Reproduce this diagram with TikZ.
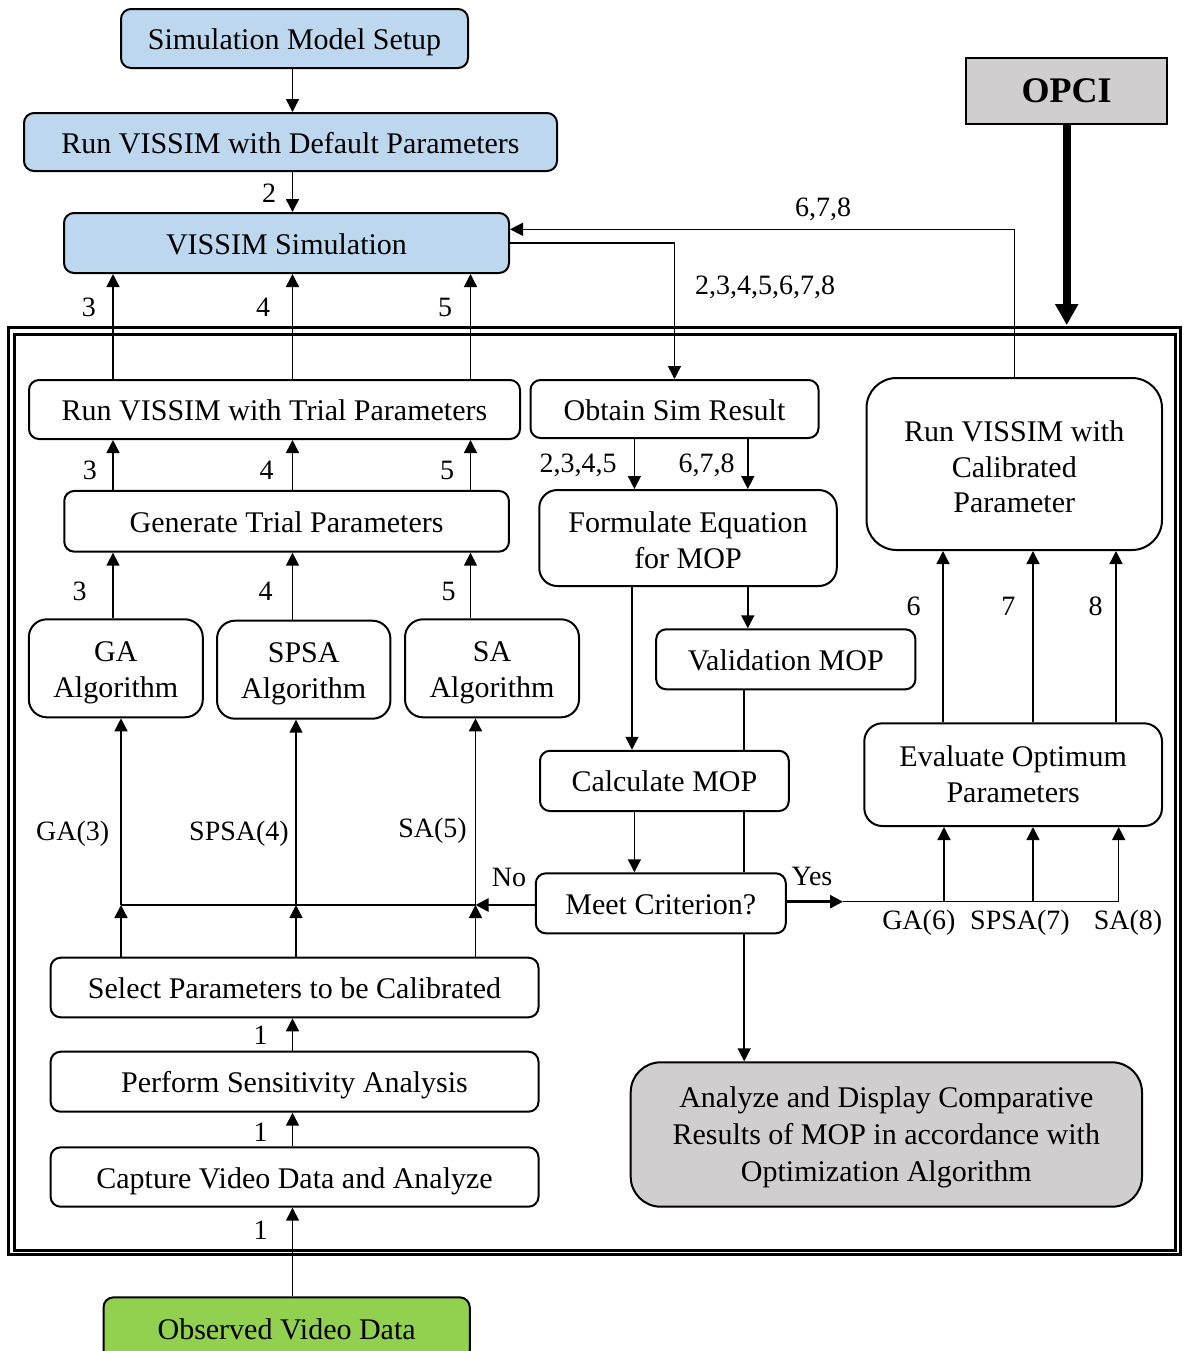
\documentclass[tikz,border=0pt]{standalone}
\usepackage{fontspec}
\setmainfont{Liberation Serif}
\usetikzlibrary{arrows.meta}
\definecolor{bluefill}{HTML}{BDD7EE}
\definecolor{grayfill}{HTML}{D0CECE}
\definecolor{greenfill}{HTML}{92D050}
\begin{document}
\begin{tikzpicture}[x=0.5pt,y=-0.5pt,
  box/.style={draw, line width=1pt, rounded corners=5pt, fill=white, align=center, inner sep=0pt, text height=11pt, text depth=0pt, font=\fontsize{15}{17.75}\selectfont},
  arr/.style={-{Triangle[length=6.5pt,width=6.5pt]}, line width=0.75pt},
  lbl/.style={inner sep=0pt, font=\fontsize{14}{16}\selectfont}]
\clip (0,0) rectangle (1184,1351);
% frame
\draw[line width=1.5pt] (8.5,327) rectangle (1180.7,1254.7);
\draw[line width=1.5pt] (14.7,334) rectangle (1175.3,1250);
% column coordinates
\coordinate (cA) at (113,0);
\coordinate (cB) at (292.5,0);
\coordinate (cC) at (470.5,0);
\coordinate (dA) at (121,0);
\coordinate (dB) at (296,0);
\coordinate (dC) at (475.5,0);
\coordinate (cF1) at (634.4,0);
\coordinate (cF0) at (632,0);
\coordinate (cF2) at (747.8,0);
\coordinate (cV) at (744.2,0);
\coordinate (eA) at (944,0);
\coordinate (eB) at (1033,0);
\coordinate (eC) at (1118.7,0);
\coordinate (fA) at (943,0);
\coordinate (fB) at (1033,0);
\coordinate (fC) at (1116,0);
\coordinate (cS) at (292.5,0);
\coordinate (jy) at (0,905);
\coordinate (yy) at (0,901.7);
\coordinate (yRC) at (0,229.3);
\coordinate (frTop) at (0,325);
\coordinate (yesA) at (843,901.7);
% nodes
\node[box, fill=bluefill, minimum width=173.5pt, minimum height=29.5pt] (sms) at (294.5,38.5) {Simulation Model Setup};
\node[box, fill=bluefill, minimum width=266.5pt, minimum height=29pt] (rdef) at (290.5,142) {Run VISSIM with Default Parameters};
\node[box, fill=bluefill, minimum width=222.5pt, minimum height=30pt] (vsim) at (286.5,243) {VISSIM Simulation};
\node[draw, line width=1pt, fill=grayfill, minimum width=100.75pt, minimum height=33pt, inner sep=0pt, font=\fontsize{18}{20}\selectfont\bfseries] (opci) at (1066.7,91) {OPCI};
\node[box, minimum width=245.5pt, minimum height=29.5pt] (rtrial) at (274.5,409.5) {Run VISSIM with Trial Parameters};
\node[box, minimum width=144pt, minimum height=29pt] (obtain) at (674.5,409) {Obtain Sim Result};
\node[box, rounded corners=15pt, text height=48.9pt, minimum width=147.75pt, minimum height=86pt] (runcal) at (1014.25,464) {Run VISSIM with\\Calibrated\\Parameter};
\node[box, minimum width=222.35pt, minimum height=30.35pt] (gen) at (286.6,521.3) {Generate Trial Parameters};
\node[box, rounded corners=9pt, text height=30.4pt, minimum width=148.75pt, minimum height=48pt] (form) at (688,538) {Formulate Equation\\for MOP};
\node[box, rounded corners=9pt, text height=29.1pt, minimum width=87pt, minimum height=49pt] (ga) at (115.8,668.3) {GA\\Algorithm};
\node[box, rounded corners=9pt, text height=28.7pt, minimum width=86.7pt, minimum height=49pt] (spsa) at (303.7,669.7) {SPSA\\Algorithm};
\node[box, rounded corners=9pt, text height=29.1pt, minimum width=87pt, minimum height=49pt] (sa) at (492,668.3) {SA\\Algorithm};
\node[box, minimum width=129.6pt, minimum height=30pt] (valid) at (785.8,659.3) {Validation MOP};
\node[box, minimum width=124.4pt, minimum height=30.15pt] (calc) at (664.4,780.9) {Calculate MOP};
\node[box, rounded corners=9pt, text height=27.75pt, minimum width=148.85pt, minimum height=51.35pt] (eval) at (1013.15,774.65) {Evaluate Optimum\\Parameters};
\node[box, minimum width=125pt, minimum height=30pt] (meet) at (660.8,903.3) {Meet Criterion?};
\node[box, minimum width=243.95pt, minimum height=29.8pt] (select) at (294.55,987.5) {Select Parameters to be Calibrated};
\node[box, minimum width=243.95pt, minimum height=30pt] (perform) at (294.55,1081.7) {Perform Sensitivity Analysis};
\node[box, minimum width=243.95pt, minimum height=29.7pt] (capture) at (294.55,1177) {Capture Video Data and Analyze};
\node[box, rounded corners=15pt, fill=grayfill, text height=47.4pt, minimum width=255.65pt, minimum height=72.2pt, font=\fontsize{15}{18.5}\selectfont] (analyze) at (886.35,1134.5) {Analyze and Display Comparative\\Results of MOP in accordance with\\Optimization Algorithm};
\node[box, fill=greenfill, minimum width=183.15pt, minimum height=31.35pt] (obs) at (286.65,1328.7) {Observed Video Data};
% connectors
\draw[arr] (sms.south -| cB) -- (rdef.north -| cB);
\draw[arr] (rdef.south -| cB) -- (vsim.north -| cB);
\draw[arr] (rtrial.north -| cA) -- (vsim.south -| cA);
\draw[arr] (rtrial.north -| cB) -- (vsim.south -| cB);
\draw[arr] (rtrial.north -| cC) -- (vsim.south -| cC);
\draw[arr] (gen.north -| cA) -- (rtrial.south -| cA);
\draw[arr] (gen.north -| cB) -- (rtrial.south -| cB);
\draw[arr] (gen.north -| cC) -- (rtrial.south -| cC);
\draw[arr] (ga.north -| cA) -- (gen.south -| cA);
\draw[arr] (spsa.north -| cB) -- (gen.south -| cB);
\draw[arr] (sa.north -| cC) -- (gen.south -| cC);
\draw[arr] (vsim.east) -| (obtain.north);
\draw[arr] (runcal.north) |- (vsim.east |- yRC);
\draw[-{Triangle[length=10.5pt,width=11pt]}, line width=4pt] (opci.south) -- (opci.south |- frTop);
\draw[arr] (obtain.south -| cF1) -- (form.north -| cF1);
\draw[arr] (obtain.south -| cF2) -- (form.north -| cF2);
\draw[arr] (form.south -| cF0) -- (calc.north -| cF0);
\draw[arr] (form.south -| cF2) -- (valid.north -| cF2);
\draw[line width=0.75pt] (valid.south -| cV) -- (calc.north -| cV);
\draw[line width=0.75pt] (calc.south -| cV) -- (meet.north -| cV);
\draw[arr] (meet.south -| cV) -- (analyze.north -| cV);
\draw[arr] (calc.south -| cF1) -- (meet.north -| cF1);
\draw[arr, line width=1.3pt] (meet.west |- jy) -- (dC |- jy);
\draw[line width=0.75pt] (dA |- jy) -- (dC |- jy);
\draw[arr] (select.north -| dA) -- (dA |- jy);
\draw[arr] (select.north -| dB) -- (dB |- jy);
\draw[arr] (select.north -| dC) -- (dC |- jy);
\draw[arr] (dA |- jy) -- (ga.south -| dA);
\draw[arr] (dB |- jy) -- (spsa.south -| dB);
\draw[arr] (dC |- jy) -- (sa.south -| dC);
\draw[arr, line width=1.3pt] (meet.east |- yy) -- (yesA);
\draw[line width=0.75pt] (yesA) -- (eC |- yy);
\draw[arr] (eA |- yy) -- (eval.south -| eA);
\draw[arr] (eB |- yy) -- (eval.south -| eB);
\draw[arr] (eC |- yy) -- (eval.south -| eC);
\draw[arr] (eval.north -| fA) -- (runcal.south -| fA);
\draw[arr] (eval.north -| fB) -- (runcal.south -| fB);
\draw[arr] (eval.north -| fC) -- (runcal.south -| fC);
\draw[arr] (perform.north -| cS) -- (select.south -| cS);
\draw[arr] (capture.north -| cS) -- (perform.south -| cS);
\draw[arr] (obs.north -| cS) -- (capture.south -| cS);
% labels
\node[lbl] (l2) at (269,193) {2};
\node[lbl] (l3a) at (88.8,307) {3};
\node[lbl] (l4a) at (263,307) {4};
\node[lbl] (l5a) at (445,307) {5};
\node[lbl] (l678a) at (823,209) {6,7,8};
\node[lbl] (lall) at (765,287) {2,3,4,5,6,7,8};
\node[lbl] (l3b) at (90,470) {3};
\node[lbl] (l4b) at (266.7,470) {4};
\node[lbl] (l5b) at (447,470) {5};
\node[lbl] (l2345) at (578,465) {2,3,4,5};
\node[lbl] (l678b) at (706.6,465) {6,7,8};
\node[lbl] (l3c) at (79.6,591.7) {3};
\node[lbl] (l4c) at (265.6,591.7) {4};
\node[lbl] (l5c) at (448.5,591) {5};
\node[lbl] (l6) at (913.6,606) {6};
\node[lbl] (l7) at (1008.3,606) {7};
\node[lbl] (l8) at (1095.5,606) {8};
\node[lbl] (lga3) at (72.7,834) {GA(3)};
\node[lbl] (lspsa4) at (239,834) {SPSA(4)};
\node[lbl] (lsa5) at (432.5,831) {SA(5)};
\node[lbl] (lno) at (509,877) {No};
\node[lbl] (lyes) at (812,876.7) {Yes};
\node[lbl] (lga6) at (918.8,922.7) {GA(6)};
\node[lbl] (lspsa7) at (1020,922.7) {SPSA(7)};
\node[lbl] (lsa8) at (1128,922.7) {SA(8)};
\node[lbl] (l1a) at (260.6,1035) {1};
\node[lbl] (l1b) at (260.6,1132.7) {1};
\node[lbl] (l1c) at (260.6,1230) {1};
\end{tikzpicture}
\end{document}
